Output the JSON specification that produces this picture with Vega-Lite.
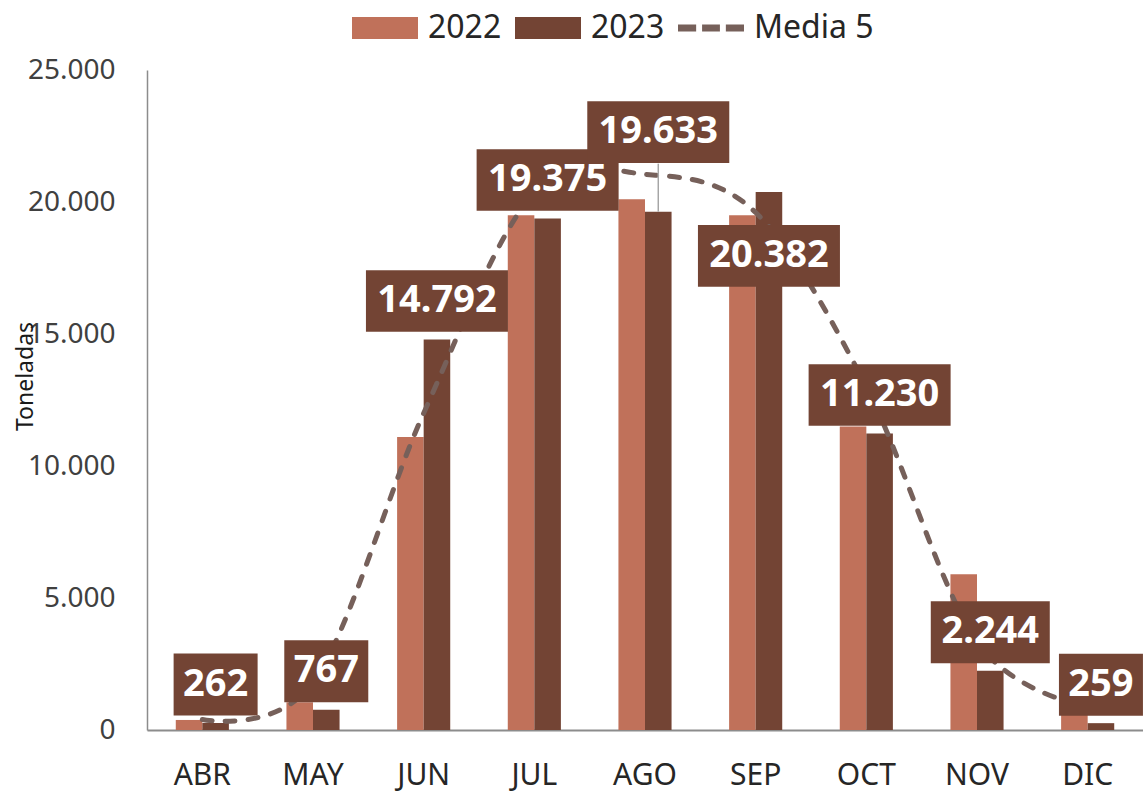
{
  "$schema": "https://vega.github.io/schema/vega-lite/v6.json",
  "width": 996,
  "height": 660,
  "autosize": {"type": "none"},
  "padding": {"left": 147, "top": 70, "right": 0, "bottom": 63},
  "background": "white",
  "config": {
    "locale": {"number": {"decimal": ",", "thousands": ".", "grouping": [3], "currency": ["", " €"]}},
    "view": {"stroke": null},
    "font": "Noto Sans"
  },
  "data": {
    "values": [
      {"mes": "ABR", "serie": "2022", "valor": 380},
      {"mes": "MAY", "serie": "2022", "valor": 1050},
      {"mes": "JUN", "serie": "2022", "valor": 11100},
      {"mes": "JUL", "serie": "2022", "valor": 19500},
      {"mes": "AGO", "serie": "2022", "valor": 20100},
      {"mes": "SEP", "serie": "2022", "valor": 19500},
      {"mes": "OCT", "serie": "2022", "valor": 11500},
      {"mes": "NOV", "serie": "2022", "valor": 5900},
      {"mes": "DIC", "serie": "2022", "valor": 570},
      {"mes": "ABR", "serie": "2023", "valor": 262},
      {"mes": "MAY", "serie": "2023", "valor": 767},
      {"mes": "JUN", "serie": "2023", "valor": 14792},
      {"mes": "JUL", "serie": "2023", "valor": 19375},
      {"mes": "AGO", "serie": "2023", "valor": 19633},
      {"mes": "SEP", "serie": "2023", "valor": 20382},
      {"mes": "OCT", "serie": "2023", "valor": 11230},
      {"mes": "NOV", "serie": "2023", "valor": 2244},
      {"mes": "DIC", "serie": "2023", "valor": 259},
      {"mes": "ABR", "serie": "Media 5", "valor": 400},
      {"mes": "MAY", "serie": "Media 5", "valor": 1800},
      {"mes": "JUN", "serie": "Media 5", "valor": 12000},
      {"mes": "JUL", "serie": "Media 5", "valor": 20350},
      {"mes": "AGO", "serie": "Media 5", "valor": 21050},
      {"mes": "SEP", "serie": "Media 5", "valor": 19600},
      {"mes": "OCT", "serie": "Media 5", "valor": 13000},
      {"mes": "NOV", "serie": "Media 5", "valor": 3350},
      {"mes": "DIC", "serie": "Media 5", "valor": 900}
    ]
  },
  "encoding": {
    "x": {
      "field": "mes",
      "type": "nominal",
      "sort": ["ABR", "MAY", "JUN", "JUL", "AGO", "SEP", "OCT", "NOV", "DIC"],
      "scale": {"paddingInner": 0.52, "paddingOuter": 0.26},
      "axis": {
        "title": null,
        "ticks": false,
        "labelAngle": 0,
        "labelFont": "Noto Sans",
        "labelFontSize": 30,
        "labelColor": "#262626",
        "labelPadding": 30,
        "domainColor": "#8C8C8C",
        "domainWidth": 2
      }
    },
    "y": {
      "field": "valor",
      "type": "quantitative",
      "scale": {"domain": [0, 25000], "nice": false},
      "axis": {
        "title": "Toneladas",
        "values": [0, 5000, 10000, 15000, 20000, 25000],
        "format": ",d",
        "ticks": false,
        "grid": false,
        "domainColor": "#8C8C8C",
        "domainWidth": 1.5,
        "labelFont": "Noto Sans",
        "labelFontSize": 28,
        "labelColor": "#404040",
        "labelPadding": 32,
        "titleFont": "Noto Sans",
        "titleFontSize": 23,
        "titleFontWeight": "normal",
        "titleColor": "#1A1A1A",
        "titleX": -115,
        "titleY": 306,
        "titleBaseline": "alphabetic"
      }
    }
  },
  "layer": [
    {
      "transform": [{"filter": "datum.serie !== 'Media 5'"}],
      "mark": {"type": "bar"},
      "encoding": {
        "xOffset": {"field": "serie", "type": "nominal", "scale": {"domain": ["2022", "2023"], "paddingInner": 0}},
        "color": {
          "field": "serie",
          "type": "nominal",
          "scale": {"domain": ["2022", "2023", "Media 5"], "range": ["#C0715A", "#734434", "#76605A"]},
          "legend": {
            "title": null,
            "orient": "none",
            "legendX": 205,
            "legendY": -75,
            "direction": "horizontal",
            "padding": 0,
            "symbolType": "M-1,-0.333H1V0.333H-1Z",
            "symbolSize": 4356,
            "symbolStrokeWidth": 0,
            "labelFont": "Noto Sans",
            "labelFontSize": 32,
            "labelColor": "#262626",
            "labelOffset": 10,
            "columnPadding": 13,
            "encode": {
              "symbols": {
                "update": {
                  "shape": {"signal": "datum.value === 'Media 5' ? 'M-1,-0.106H-0.45V0.106H-1Z M-0.27,-0.106H0.27V0.106H-0.27Z M0.45,-0.106H1V0.106H0.45Z' : 'M-1,-0.333H1V0.333H-1Z'"},
                  "fill": {"scale": "color", "field": "value"},
                  "strokeWidth": {"value": 0},
                  "opacity": {"value": 1}
                }
              }
            }
          }
        }
      }
    },
    {
      "transform": [{"filter": "datum.serie === 'Media 5'"}],
      "mark": {"type": "line", "interpolate": "cardinal", "strokeDash": [10, 13], "strokeWidth": 5, "strokeCap": "round"},
      "encoding": {
        "color": {"field": "serie", "type": "nominal"}
      }
    },
    {
      "transform": [{"filter": "datum.serie === '2023' && datum.mes === 'AGO'"}],
      "mark": {"type": "rule", "color": "#A6A6A6", "strokeWidth": 1.5, "y2Offset": -48},
      "encoding": {
        "xOffset": {"field": "serie", "type": "nominal"},
        "y2": {"field": "valor"}
      }
    },
    {
      "transform": [{"filter": "datum.serie === '2023' && datum.mes !== 'AGO' && datum.mes !== 'SEP'"}],
      "mark": {"type": "point", "filled": true, "opacity": 1, "color": "#734434", "strokeWidth": 0, "yOffset": -38.5},
      "encoding": {
        "xOffset": {"field": "serie", "type": "nominal"},
        "shape": {"condition": [{"test": "datum.valor < 1000", "value": "M-1,-0.738H1V0.738H-1Z"}, {"test": "datum.valor < 10000", "value": "M-1,-0.521H1V0.521H-1Z"}], "value": "M-1,-0.434H1V0.434H-1Z"},
        "size": {"condition": [{"test": "datum.valor < 1000", "value": 7056}, {"test": "datum.valor < 10000", "value": 14161}], "value": 20164}
      }
    },
    {
      "transform": [{"filter": "datum.serie === '2023' && datum.mes === 'AGO'"}],
      "mark": {"type": "point", "filled": true, "opacity": 1, "color": "#734434", "strokeWidth": 0, "yOffset": -79.5},
      "encoding": {
        "xOffset": {"field": "serie", "type": "nominal"},
        "shape": {"value": "M-1,-0.434H1V0.434H-1Z"},
        "size": {"value": 20164}
      }
    },
    {
      "transform": [{"filter": "datum.serie === '2023' && datum.mes === 'SEP'"}],
      "mark": {"type": "point", "filled": true, "opacity": 1, "color": "#734434", "strokeWidth": 0, "yOffset": 64, "xOffset": -6},
      "encoding": {
        "xOffset": {"field": "serie", "type": "nominal"},
        "shape": {"value": "M-1,-0.434H1V0.434H-1Z"},
        "size": {"value": 20164}
      }
    },
    {
      "transform": [{"filter": "datum.serie === '2023' && datum.mes !== 'AGO' && datum.mes !== 'SEP'"}],
      "mark": {"type": "text", "font": "Noto Sans", "fontSize": 38, "fontWeight": "bold", "color": "white", "align": "center", "baseline": "middle", "yOffset": -38.5},
      "encoding": {
        "xOffset": {"field": "serie", "type": "nominal"},
        "text": {"field": "valor", "type": "quantitative", "format": ",d"}
      }
    },
    {
      "transform": [{"filter": "datum.serie === '2023' && datum.mes === 'AGO'"}],
      "mark": {"type": "text", "font": "Noto Sans", "fontSize": 38, "fontWeight": "bold", "color": "white", "align": "center", "baseline": "middle", "yOffset": -79.5},
      "encoding": {
        "xOffset": {"field": "serie", "type": "nominal"},
        "text": {"field": "valor", "type": "quantitative", "format": ",d"}
      }
    },
    {
      "transform": [{"filter": "datum.serie === '2023' && datum.mes === 'SEP'"}],
      "mark": {"type": "text", "font": "Noto Sans", "fontSize": 38, "fontWeight": "bold", "color": "white", "align": "center", "baseline": "middle", "yOffset": 64, "xOffset": -6},
      "encoding": {
        "xOffset": {"field": "serie", "type": "nominal"},
        "text": {"field": "valor", "type": "quantitative", "format": ",d"}
      }
    }
  ]
}
